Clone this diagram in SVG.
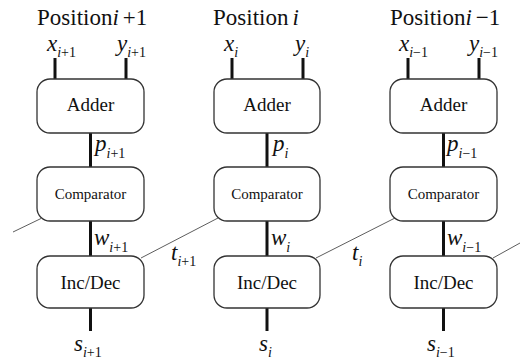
<svg xmlns="http://www.w3.org/2000/svg" width="520" height="362" viewBox="0 0 520 362">
<style>
.box{fill:#fff;stroke:#333;stroke-width:1.3}
.bus{stroke:#111;stroke-width:3;fill:none}
.thin{stroke:#333;stroke-width:0.8;fill:none}
text{font-family:"Liberation Serif","Times New Roman",serif;fill:#111}
.pos{font-size:23px}
.v{font-size:23px;font-style:italic}
.sub{font-size:14px}
.it{font-style:italic}
.big{font-size:19px;text-anchor:middle}
.cmp{font-size:15px;text-anchor:middle}
</style>
<rect width="520" height="362" fill="#fff"/>
<g id="connectors">
<line class="bus" x1="55" y1="58" x2="55" y2="79"/>
<line class="bus" x1="126" y1="58" x2="126" y2="79"/>
<line class="bus" x1="90.5" y1="133" x2="90.5" y2="167"/>
<line class="bus" x1="90.5" y1="221" x2="90.5" y2="256"/>
<line class="bus" x1="90.5" y1="308" x2="90.5" y2="331"/>
<line class="bus" x1="232" y1="58" x2="232" y2="79"/>
<line class="bus" x1="303" y1="58" x2="303" y2="79"/>
<line class="bus" x1="267" y1="133" x2="267" y2="167"/>
<line class="bus" x1="267" y1="221" x2="267" y2="256"/>
<line class="bus" x1="267" y1="308" x2="267" y2="331"/>
<line class="bus" x1="408" y1="58" x2="408" y2="79"/>
<line class="bus" x1="479" y1="58" x2="479" y2="79"/>
<line class="bus" x1="443.5" y1="133" x2="443.5" y2="167"/>
<line class="bus" x1="443.5" y1="221" x2="443.5" y2="256"/>
<line class="bus" x1="443.5" y1="308" x2="443.5" y2="331"/>
<line class="thin" x1="13" y1="232" x2="41" y2="218.5"/>
<line class="thin" x1="141" y1="258" x2="218" y2="218"/>
<line class="thin" x1="316" y1="258" x2="395" y2="218"/>
<line class="thin" x1="493" y1="258" x2="520" y2="243"/>
</g>
<g id="col1">
<text class="pos" x="37" y="25">Position<tspan class="it">i</tspan><tspan dx="4">+1</tspan></text>
<text x="47" y="51"><tspan class="v">x</tspan><tspan class="sub" dy="6"><tspan class="it">i</tspan>+1</tspan></text>
<text x="117" y="51"><tspan class="v">y</tspan><tspan class="sub" dy="6"><tspan class="it">i</tspan>+1</tspan></text>
<rect class="box" x="37" y="79" width="107" height="54" rx="13"/>
<text class="big" x="90.5" y="111">Adder</text>
<text x="95" y="151"><tspan class="v">p</tspan><tspan class="sub" dy="7"><tspan class="it">i</tspan>+1</tspan></text>
<rect class="box" x="37" y="167" width="107" height="54" rx="13"/>
<text class="cmp" x="90.5" y="199">Comparator</text>
<text x="94" y="245"><tspan class="v">w</tspan><tspan class="sub" dy="7"><tspan class="it">i</tspan>+1</tspan></text>
<rect class="box" x="37" y="256" width="107" height="52" rx="13"/>
<text class="big" x="90.5" y="289">Inc/Dec</text>
<text x="74" y="351"><tspan class="v">s</tspan><tspan class="sub" dy="6"><tspan class="it">i</tspan>+1</tspan></text>
<text x="171" y="260"><tspan class="v">t</tspan><tspan class="sub" dy="6"><tspan class="it">i</tspan>+1</tspan></text>
</g>
<g id="col2">
<text class="pos" x="213" y="25">Position<tspan class="it" dx="4">i</tspan></text>
<text x="224" y="51"><tspan class="v">x</tspan><tspan class="sub it" dy="6">i</tspan></text>
<text x="295" y="51"><tspan class="v">y</tspan><tspan class="sub it" dy="6">i</tspan></text>
<rect class="box" x="214" y="79" width="106" height="54" rx="13"/>
<text class="big" x="267" y="111">Adder</text>
<text x="273" y="151"><tspan class="v">p</tspan><tspan class="sub it" dy="7">i</tspan></text>
<rect class="box" x="214" y="167" width="106" height="54" rx="13"/>
<text class="cmp" x="267" y="199">Comparator</text>
<text x="271" y="245"><tspan class="v">w</tspan><tspan class="sub it" dy="7">i</tspan></text>
<rect class="box" x="214" y="256" width="106" height="52" rx="13"/>
<text class="big" x="267" y="289">Inc/Dec</text>
<text x="259" y="351"><tspan class="v">s</tspan><tspan class="sub it" dy="6">i</tspan></text>
<text x="352" y="260"><tspan class="v">t</tspan><tspan class="sub it" dy="6">i</tspan></text>
</g>
<g id="col3">
<text class="pos" x="390" y="25">Position<tspan class="it">i</tspan><tspan dx="4">−1</tspan></text>
<text x="399" y="51"><tspan class="v">x</tspan><tspan class="sub" dy="6"><tspan class="it">i</tspan>−1</tspan></text>
<text x="469" y="51"><tspan class="v">y</tspan><tspan class="sub" dy="6"><tspan class="it">i</tspan>−1</tspan></text>
<rect class="box" x="390" y="79" width="107" height="54" rx="13"/>
<text class="big" x="443.5" y="111">Adder</text>
<text x="447" y="151"><tspan class="v">p</tspan><tspan class="sub" dy="7"><tspan class="it">i</tspan>−1</tspan></text>
<rect class="box" x="390" y="167" width="107" height="54" rx="13"/>
<text class="cmp" x="443.5" y="199">Comparator</text>
<text x="447" y="245"><tspan class="v">w</tspan><tspan class="sub" dy="7"><tspan class="it">i</tspan>−1</tspan></text>
<rect class="box" x="390" y="256" width="107" height="52" rx="13"/>
<text class="big" x="443.5" y="289">Inc/Dec</text>
<text x="427" y="351"><tspan class="v">s</tspan><tspan class="sub" dy="6"><tspan class="it">i</tspan>−1</tspan></text>
</g>
</svg>
